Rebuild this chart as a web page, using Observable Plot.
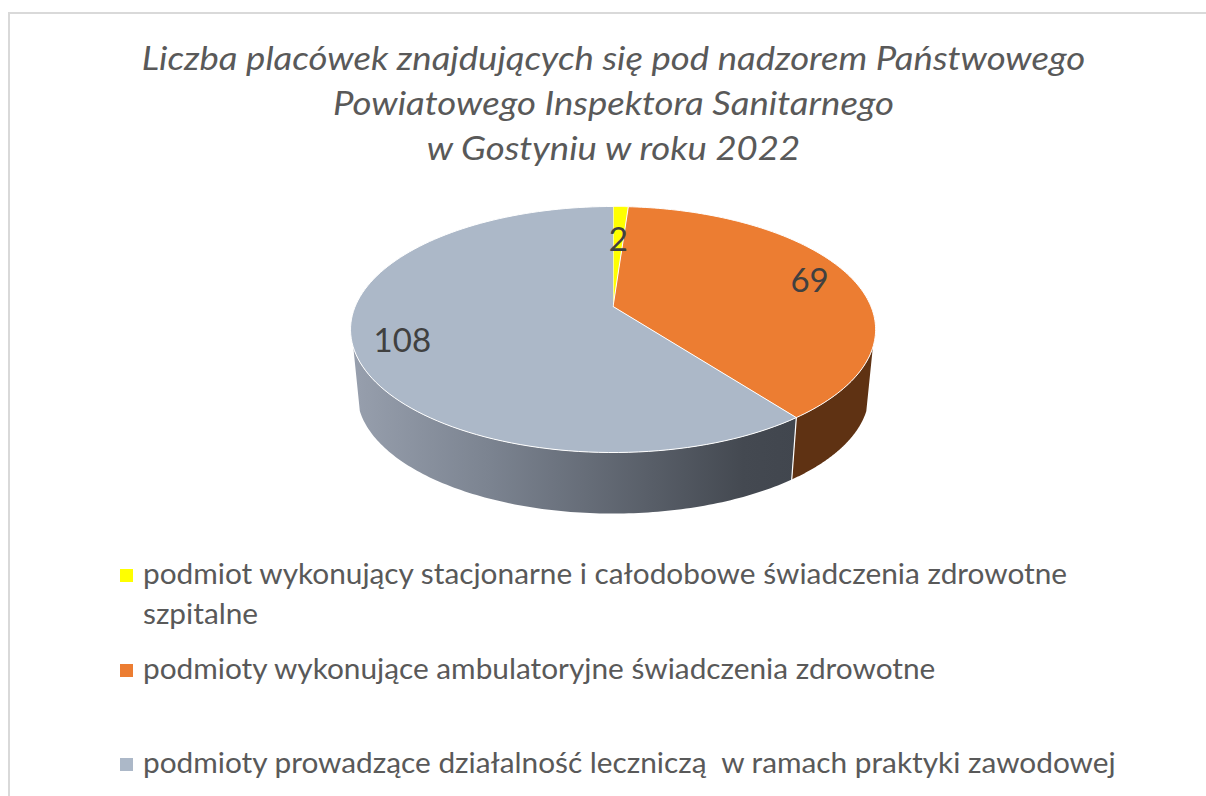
<!DOCTYPE html>
<html lang="pl">
<head>
<meta charset="utf-8">
<script src="https://cdn.jsdelivr.net/npm/d3@7"></script>
<script src="https://cdn.jsdelivr.net/npm/@observablehq/plot@0.6"></script>
<style>
html,body{margin:0;padding:0;background:#fff;overflow:hidden}
#frame{position:absolute;left:8px;top:12px;width:1198px;height:784px;border-left:2px solid #d9d9d9;border-top:2px solid #d9d9d9;box-sizing:border-box}
#page{position:absolute;left:0;top:0;width:1206px;height:796px;font-family:Lato,sans-serif}
#title{position:absolute;left:0;top:35px;width:1227px;text-align:center;font-style:italic;font-size:32px;line-height:45px;color:#595959;white-space:pre;transform:scaleX(1.142);transform-origin:613.5px 0}
#chart{position:absolute;left:-1px;top:195px}
#legend{position:absolute;left:120px;top:553px;color:#595959;font-size:28px;line-height:40px}
.item{position:absolute;left:0;white-space:pre}
.sw{position:absolute;left:0;top:16px;width:13px;height:13px}
.tx{position:absolute;left:23px;top:0;white-space:pre;transform:scaleX(1.064);transform-origin:0 0}
</style>
</head>
<body>
<div id="frame"></div>
<div id="page">
  <div id="title"></div>
  <div id="chart"></div>
  <div id="legend"></div>
</div>
<script>
const titleLines = [
  "Liczba placówek znajdujących się pod nadzorem Państwowego",
  "Powiatowego Inspektora Sanitarnego",
  "w Gostyniu w roku 2022"
];
const categories = [
  "podmiot wykonujący stacjonarne i całodobowe świadczenia zdrowotne\nszpitalne",
  "podmioty wykonujące ambulatoryjne świadczenia zdrowotne",
  "podmioty prowadzące działalność leczniczą  w ramach praktyki zawodowej"
];
const values = [2, 69, 108];
const colors = ["#ffff00", "#ec7d32", "#acb8c8"];
const sideColors = ["#999900", "#5f3213", "url(#sideGrey)"];
const labelRadius = [0.64, 0.83, 0.82];

// pie geometry derived from the values
const persp = 0.187, lowerScale = 0.975, depth = 0.545;
const total = d3.sum(values);
const ends = d3.cumsum(values).map(v => v / total * 2 * Math.PI);
const starts = ends.map((_, i) => i ? ends[i - 1] : 0);
const project = (t, r = 1) => {
  const k = 1 + persp * r * Math.cos(t);
  return {u: r * Math.sin(t) / k, v: r * Math.cos(t) / k};
};
const lower = t => {
  const p = project(t);
  return {u: p.u * lowerScale, v: p.v * lowerScale - depth};
};
const steps = (a, b) => d3.range(0, 121).map(i => a + (b - a) * i / 120);

const tops = categories.flatMap((c, i) => [
  {slice: i, u: 0, v: 0},
  ...steps(starts[i], ends[i]).map(t => ({slice: i, ...project(t)}))
]);
const visibleFrom = Math.PI * 0.605, visibleTo = Math.PI * 1.395;
const sideOf = i => {
  const a = Math.max(starts[i], visibleFrom), b = Math.min(ends[i], visibleTo);
  if (b <= a) return [];
  return [
    ...steps(a, b).map(t => ({slice: i, ...project(t)})),
    ...steps(b, a).map(t => ({slice: i, ...lower(t)}))
  ];
};
const sides = categories.flatMap((c, i) => sideOf(i));
const seam = [{...project(ends[1]), w: 0}, {...lower(ends[1]), w: 1}];
const labels = values.map((v, i) => ({
  text: String(v),
  ...project((starts[i] + ends[i]) / 2, labelRadius[i])
}));

const defs = () => {
  const s = d3.create("svg:defs");
  const g = s.append("linearGradient").attr("id", "sideGrey").attr("x1", 0).attr("x2", 1).attr("y1", 0).attr("y2", 0);
  g.append("stop").attr("offset", "0%").attr("stop-color", "#979fad");
  g.append("stop").attr("offset", "30%").attr("stop-color", "#7c8491");
  g.append("stop").attr("offset", "88%").attr("stop-color", "#444951");
  g.append("stop").attr("offset", "100%").attr("stop-color", "#41464e");
  return s.node();
};

const plot = Plot.plot({
  width: 1206, height: 340,
  margin: 0,
  x: {domain: [-2.379, 2.297], range: [0, 1206], axis: null},
  y: {domain: [0.935, -1.929], range: [0, 340], axis: null},
  marks: [
    defs,
    Plot.line(sides, {x: "u", y: "v", z: "slice", stroke: "none", curve: "linear",
      fill: d => sideColors[d.slice]}),
    Plot.line(seam, {x: "u", y: "v", stroke: "#fff", strokeWidth: 1.2}),
    Plot.line(tops, {x: "u", y: "v", z: "slice", curve: "linear",
      fill: d => colors[d.slice], stroke: "#fff", strokeWidth: 1}),
    Plot.text(labels, {x: "u", y: "v", text: "text", fill: "#404040", dy: 2,
      fontSize: 33, fontFamily: "Lato, sans-serif"})
  ],
  color: {type: "identity"}
});
document.getElementById("chart").append(plot);

document.getElementById("title").textContent = titleLines.join("\n");
const legend = d3.select("#legend");
const legendTops = [0, 95, 189];
categories.forEach((c, i) => {
  const it = legend.append("div").attr("class", "item").style("top", legendTops[i] + "px");
  it.append("div").attr("class", "sw").style("background", colors[i]);
  it.append("div").attr("class", "tx").text(c);
});
</script>
</body>
</html>
